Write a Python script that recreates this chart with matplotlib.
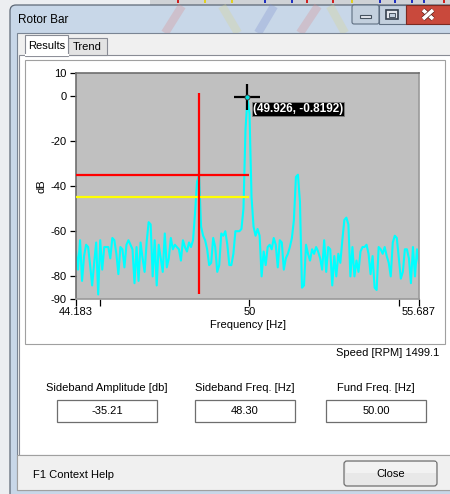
"""Rotor bar spectrum dialog, redrawn with matplotlib."""

import numpy as np
import matplotlib

matplotlib.use("Agg")
import matplotlib.pyplot as plt
from matplotlib.patches import Rectangle, FancyBboxPatch
import matplotlib.patheffects as pe

plt.rcParams["font.family"] = ["Liberation Sans", "DejaVu Sans"]
plt.rcParams["axes.unicode_minus"] = False

# spectrum values, evenly spaced bins across the span
f_start, f_stop = 44.183, 55.687
spectrum_db = [
    -69, -77, -64, -82, -71, -66, -67, -75, -84, -74,
    -65, -88, -64, -77, -67, -67, -67, -72, -63, -64,
    -70, -79, -67, -68, -76, -66, -64, -66, -68, -83,
    -67, -82, -65, -72, -78, -65, -56, -57, -80, -64,
    -84, -66, -72, -78, -61,
    -76, -72, -63, -68, -66, -67, -68, -73, -64, -67,
    -69, -65, -67, -64, -52, -38, -35.2, -58, -62, -64,
    -68, -75, -74, -63, -67, -78, -75, -61, -62, -60,
    -66, -75, -75, -70, -60, -60, -60, -59, -50, -15,
    -0.82,
    -8, -45, -58, -62, -59, -62, -80, -69, -75, -67,
    -66, -68, -63, -66, -76, -64, -65, -77, -72, -70,
    -67, -63, -55, -36, -35, -47, -85, -84, -66, -70,
    -73, -68, -70, -67, -69, -72, -77, -64, -78, -67,
    -68, -84, -71, -80, -70, -74, -64, -55, -54, -57,
    -80, -67, -80, -73, -78, -69, -67, -67, -66, -70,
    -79, -71, -85, -86, -67, -68, -70, -67, -71, -74,
    -80, -65, -62, -63, -72, -81, -78, -68, -68, -72,
    -83, -67, -80, -68, -74,
]
freq = np.linspace(f_start, f_stop, len(spectrum_db))

sideband_freq = 48.30
sideband_amp = -35.21
fund_freq = 50.00
alarm_level = -45.0
peak_freq, peak_db = 49.926, -0.8192
speed_rpm = 1499.1

y_ticks = [10, 0, -20, -40, -60, -80, -90]
x_ticks = [44.183, 45, 50, 55, 55.687]
x_tick_labels = ["44.183", "", "50", "", "55.687"]

result_labels = ["Sideband Amplitude [db]", "Sideband Freq. [Hz]", "Fund Freq. [Hz]"]
result_values = [f"{sideband_amp:.2f}", f"{sideband_freq:.2f}", f"{fund_freq:.2f}"]

W, H = 450, 494
FS = 8

fig = plt.figure(figsize=(W / 100, H / 100), dpi=100)
fig.patch.set_facecolor("#eceef1")

# pixel-space layer for the window chrome
ui = fig.add_axes([0, 0, 1, 1])
ui.set_xlim(0, W)
ui.set_ylim(H, 0)
ui.axis("off")


def box(x0, y0, x1, y1, fc, ec="none", lw=0.72, z=1, rounding=0):
    if rounding:
        p = FancyBboxPatch((x0, y0), x1 - x0, y1 - y0,
                           boxstyle=f"round,pad=0,rounding_size={rounding}",
                           fc=fc, ec=ec, lw=lw, zorder=z)
    else:
        p = Rectangle((x0, y0), x1 - x0, y1 - y0, fc=fc, ec=ec, lw=lw, zorder=z)
    ui.add_patch(p)


# desktop window peeking out above
box(150, 0, 452, 6, "#cfd2d6", z=0)
for x, c in [(178, "#d02020"), (205, "#e0d020"), (232, "#e0d020"), (265, "#2030c0"),
             (292, "#2030c0"), (307, "#d02020"), (333, "#d02020"), (352, "#e0d020"),
             (380, "#2030c0"), (395, "#2030c0"), (412, "#2030c0"), (424, "#2030c0"),
             (444, "#d02020")]:
    box(x - 1, 0, x + 1, 3, c, z=0.5)

# aero frame + blurred title bar
box(10, 5, 470, 500, "#c8d7e8", ec="#5d6876", lw=0.9, rounding=6)
for (xa, xb), c in [((165, 182), "#d98c8c"), ((238, 222), "#d9d58c"), ((258, 274), "#7d8fd0"),
                    ((300, 318), "#d98c8c"), ((345, 330), "#d9d58c")]:
    ui.plot([xa, xb], [33, 6], color=c, lw=6, alpha=0.3, solid_capstyle="butt", zorder=1.2)
ui.text(18, 20, "Rotor Bar", fontsize=8.5, va="center", ha="left", zorder=3)

# caption buttons
box(352, 5, 379, 24, "#c3d0de", ec="#5f6f82", lw=0.8, z=2, rounding=2)
box(379, 5, 406, 24, "#c3d0de", ec="#5f6f82", lw=0.8, z=2)
box(406, 5, 460, 24, "#c9493c", ec="#7b2a21", lw=0.8, z=2)
box(360, 15, 371, 18, "#e4e8ee", ec="#45525f", lw=0.8, z=3)
box(386, 10, 398, 19, "#e4e8ee", ec="#35414e", lw=1.2, z=3)
box(389, 13, 395, 17, "#c3d0de", ec="#35414e", lw=0.6, z=3)
for xs, ys in [([423, 433], [10, 19]), ([423, 433], [19, 10])]:
    ui.plot(xs, ys, color="white", lw=2.6, zorder=4, solid_capstyle="butt",
            path_effects=[pe.Stroke(linewidth=3.6, foreground="#5a1e18"), pe.Normal()])

# client area, tabs, tab page
box(17, 33, 460, 490, "#f0f0f0", ec="#7a8594", lw=0.8, z=2)
box(19, 55, 460, 455, "white", ec="#898c95", lw=0.8, z=2.1)
box(68, 38, 107, 55, "#e3e3e3", ec="#898c95", lw=0.8, z=2.2)
box(25, 35, 68, 56, "white", ec="#898c95", lw=0.8, z=2.3)
ui.plot([25.5, 67.5], [55.5, 55.5], color="white", lw=1.5, zorder=2.4)
ui.text(46.5, 46, "Results", fontsize=FS, ha="center", va="center", zorder=3)
ui.text(87.5, 47, "Trend", fontsize=FS, ha="center", va="center", zorder=3)

# chart frame
box(25, 60, 445, 344, "white", ec="#a0a0a0", lw=0.8, z=2.5)

ui.text(439, 353, f"Speed [RPM] {speed_rpm:.1f}", fontsize=FS, ha="right", va="center", zorder=3)

# result boxes
for cx, lab, val in zip([107, 245, 376], result_labels, result_values):
    ui.text(cx, 388, lab, fontsize=FS, ha="center", va="center", zorder=3)
    box(cx - 50, 400, cx + 50, 422, "white", ec="#6e6e6e", lw=0.9, z=3)
    ui.text(cx, 411, val, fontsize=FS, ha="center", va="center", zorder=4)

# status strip
box(17, 455, 460, 490, "#f0f0f0", ec="#a0a0a0", lw=0.8, z=2.6)
ui.text(33, 475, "F1 Context Help", fontsize=FS, ha="left", va="center", zorder=3)
box(344, 461, 437, 486, "#e8e8e8", ec="#707070", lw=0.9, z=3, rounding=3)
box(345.5, 462, 435.5, 473, "#f2f2f2", z=3.1)
ui.text(390.5, 473.5, "Close", fontsize=FS, ha="center", va="center", zorder=4)

# spectrum chart
ax = fig.add_axes([76 / W, 1 - 299 / H, 343 / W, 226 / H], zorder=5)
ax.set_facecolor("#c0c0c0")
ax.plot(freq, spectrum_db, color="#00ffff", lw=1.5, zorder=2)
ax.hlines(sideband_amp, f_start, fund_freq, colors="#ff0000", lw=1.6, zorder=3)
ax.hlines(alarm_level, f_start, fund_freq, colors="#ffff00", lw=1.6, zorder=3)
ax.vlines(sideband_freq, -88, 1, colors="#ff0000", lw=1.6, zorder=3)

ax.plot(peak_freq, peak_db, marker="+", ms=19, mew=1.6, color="black", zorder=4)
ax.plot(peak_freq, peak_db, marker="o", ms=3.6, mfc="#00e0e0", mec="#404040", mew=0.6, zorder=5)
ax.annotate(f"({peak_freq:.3f}, {peak_db:.4f})", xy=(peak_freq, peak_db),
            xytext=(4, -4), textcoords="offset points", ha="left", va="top",
            fontsize=8.5, fontweight="bold", color="white", zorder=6,
            bbox=dict(boxstyle="square,pad=0.1", fc="black", ec="#808080", lw=0.6))

ax.set_xlim(f_start, f_stop)
ax.set_ylim(-90, 10)
ax.set_yticks(y_ticks)
ax.set_xticks(x_ticks)
ax.set_xticklabels(x_tick_labels)
ax.tick_params(axis="y", direction="out", length=4.3, width=0.9, pad=2.5, labelsize=FS)
ax.tick_params(axis="x", direction="out", length=5, width=0.9, pad=1, labelsize=FS)
ax.set_xlabel("Frequency [Hz]", fontsize=FS, labelpad=2)
ax.set_ylabel("dB", fontsize=FS, labelpad=3)
for side, s in ax.spines.items():
    s.set_color("#6e6e6e" if side in ("left", "top") else "#9a9a9a")
    s.set_linewidth(1.2)

fig.savefig("out.png", dpi=100, facecolor=fig.get_facecolor())
